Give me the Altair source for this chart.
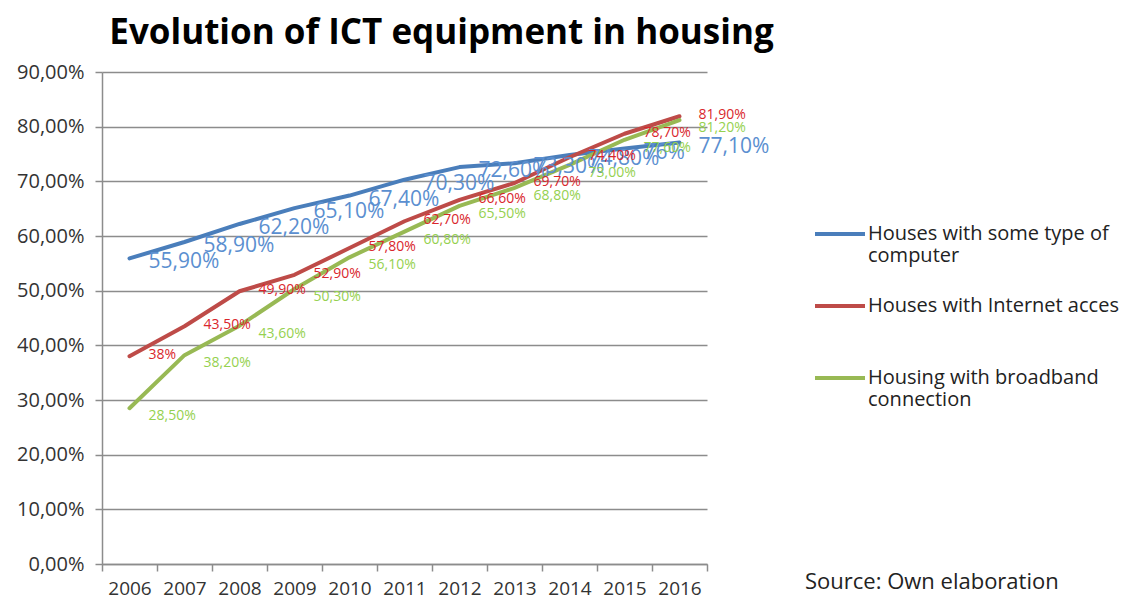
import altair as alt
import pandas as pd

years = [str(y) for y in range(2006, 2017)]
computer = [55.9, 58.9, 62.2, 65.1, 67.4, 70.3, 72.6, 73.3, 74.8, 76.0, 77.1]
internet = [38.0, 43.5, 49.9, 52.9, 57.8, 62.7, 66.6, 69.7, 74.4, 78.7, 81.9]
broadband = [28.5, 38.2, 43.6, 50.3, 56.1, 60.8, 65.5, 68.8, 73.0, 77.6, 81.2]

computer_labels = ["55,90%", "58,90%", "62,20%", "65,10%", "67,40%", "70,30%",
                   "72,60%", "73,30%", "74,80%", "76%", "77,10%"]
internet_labels = ["38%", "43,50%", "49,90%", "52,90%", "57,80%", "62,70%",
                   "66,60%", "69,70%", "74,40%", "78,70%", "81,90%"]
broadband_labels = ["28,50%", "38,20%", "43,60%", "50,30%", "56,10%", "60,80%",
                    "65,50%", "68,80%", "73,00%", "77,60%", "81,20%"]

series_names = ["Houses with some type of computer",
                "Houses with Internet acces",
                "Housing with broadband connection"]
legend_lines = [["Houses with some type of", "computer"],
                ["Houses with Internet acces"],
                ["Housing with broadband", "connection"]]
line_colors = ["#4a7ebb", "#be4b48", "#98b954"]
label_colors = ["#5b8fd0", "#d9262c", "#95d14f"]
label_sizes = [21, 14, 14]
label_dy = [4, -1, 8]
y_ticks = list(range(0, 91, 10))
title_text = "Evolution of ICT equipment in housing"
source_text = "Source: Own elaboration"

FONT = "Open Sans"

rows = []
for name, vals, labs in zip(series_names, [computer, internet, broadband],
                            [computer_labels, internet_labels, broadband_labels]):
    for yr, v, lb in zip(years, vals, labs):
        rows.append({"year": yr, "series": name, "value": v, "label": lb})
df = pd.DataFrame(rows)


def js_list(items):
    return "[" + ",".join("'" + s + "'" for s in items) + "]"


expr = "''"
for name, lines in reversed(list(zip(series_names, legend_lines))):
    expr = f"datum.label == '{name}' ? {js_list(lines)} : ({expr})"

x_enc = alt.X(
    "year:O",
    scale=alt.Scale(type="band", paddingInner=0, paddingOuter=0),
    axis=alt.Axis(title=None, labelAngle=0, labelFontSize=19, labelFont=FONT,
                  labelColor="#333333", tickSize=7, tickColor="#8c8c8c",
                  tickWidth=1.5, domainColor="#8c8c8c", domainWidth=1.5,
                  labelPadding=8, tickBand="extent", grid=False),
)
y_enc = alt.Y(
    "value:Q",
    scale=alt.Scale(domain=[0, 90], nice=False),
    axis=alt.Axis(title=None, values=y_ticks, labelFontSize=20, labelFont=FONT,
                  labelColor="#333333", tickSize=7, tickColor="#8c8c8c",
                  tickWidth=1.5, domainColor="#8c8c8c", domainWidth=1.5,
                  gridColor="#8c8c8c", gridWidth=1.5, labelPadding=11,
                  labelExpr="replace(format(datum.value, '.2f'), '.', ',') + '%'"),
)

base = alt.Chart(df).encode(x=x_enc, y=y_enc)

lines = base.mark_line(strokeWidth=4, strokeCap="round", strokeJoin="round").encode(
    color=alt.Color(
        "series:N",
        sort=series_names,
        scale=alt.Scale(domain=series_names, range=line_colors),
        legend=alt.Legend(title=None, orient="none", legendX=711, legendY=135,
                          symbolType="stroke", symbolSize=2500, symbolStrokeWidth=4,
                          labelFontSize=20, labelFont=FONT, labelColor="#222222",
                          labelLimit=400, labelOffset=1, labelBaseline="middle",
                          rowPadding=13, gridAlign="all", labelExpr=expr),
    ),
    detail="series:N",
)

label_layers = []
for name, col, sz, dy in zip(series_names, label_colors, label_sizes, label_dy):
    label_layers.append(
        base.transform_filter(alt.datum.series == name)
        .mark_text(align="left", baseline="middle", dx=19, dy=dy,
                   fontSize=sz, font=FONT, color=col)
        .encode(text="label:N")
    )

source = alt.Chart(pd.DataFrame({"t": [source_text]})).mark_text(
    align="left", baseline="middle", fontSize=22, font=FONT, color="#222222"
).encode(x=alt.value(703), y=alt.value(510), text="t:N")

chart = alt.layer(lines, *label_layers, source).properties(
    width=605,
    height=492,
    title=alt.Title(title_text, fontSize=35, font=FONT, fontWeight="bold",
                    color="#000000", anchor="middle", dx=37, offset=11),
    autosize=alt.AutoSizeParams(type="none"),
    padding={"left": 94, "top": 64, "right": 412, "bottom": 38},
).configure_view(stroke="transparent")

chart.save("out.html", embed_options={"renderer": "svg", "actions": False})
